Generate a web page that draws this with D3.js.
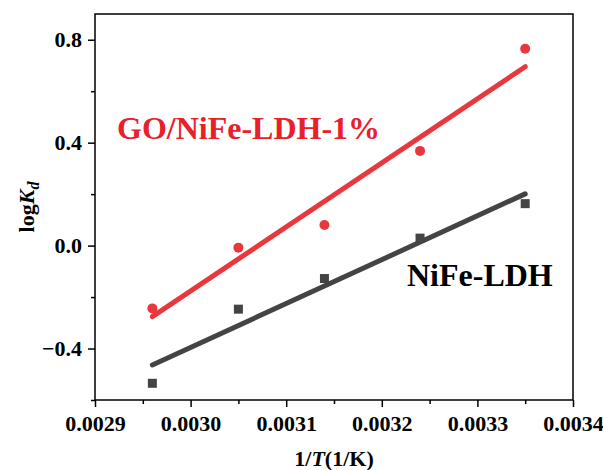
<!DOCTYPE html>
<html>
<head>
<meta charset="utf-8">
<script src="https://cdn.jsdelivr.net/npm/d3@7"></script>
<style>
  body { margin: 0; background: #fff; }
  text { font-family: "Liberation Serif", "Times New Roman", serif; font-weight: bold; }
</style>
</head>
<body>
<svg id="chart" width="603" height="470"></svg>
<script>
// 1/T values (1/K)
var inv_t = [0.00296, 0.00305, 0.00314, 0.00324, 0.00335]
// logKd for each sample
var go_nife = [-0.244, -0.008, 0.080, 0.368, 0.765]
var nife = [-0.535, -0.247, -0.128, 0.029, 0.163]
// linear fit end points
var fit_x = [0.00296, 0.00335]
var go_nife_fit = [-0.276, 0.695]
var nife_fit = [-0.464, 0.201]

var x_ticks = [0.0029, 0.0030, 0.0031, 0.0032, 0.0033, 0.0034]
var y_ticks = [-0.4, 0.0, 0.4, 0.8]

var red = "#e8383d"
var grey = "#444444"

var margin = {left: 95, right: 30, top: 14, bottom: 70}
var width = 603 - margin.left - margin.right
var height = 470 - margin.top - margin.bottom

var svg = d3.select("#chart")
var g = svg.append("g").attr("transform", "translate(" + margin.left + "," + margin.top + ")")

var x = d3.scaleLinear().domain([0.0029, 0.0034]).range([0, width])
var y = d3.scaleLinear().domain([-0.6, 0.9]).range([height, 0])

// minor ticks
g.append("g")
  .attr("transform", "translate(0," + height + ")")
  .call(d3.axisBottom(x).tickValues(d3.range(0, 10).map(function(i){ return 0.00295 + i * 0.0001 }).filter(function(v){ return v < 0.0034 }))
    .tickSize(4).tickFormat(""))
  .call(function(a){ a.select(".domain").remove() })
  .selectAll("line").attr("stroke-width", 1.5)

g.append("g")
  .call(d3.axisLeft(y).tickValues([-0.6, -0.2, 0.2, 0.6]).tickSize(4).tickFormat(""))
  .call(function(a){ a.select(".domain").remove() })
  .selectAll("line").attr("stroke-width", 1.5)

// major ticks
var xa = g.append("g")
  .attr("transform", "translate(0," + height + ")")
  .call(d3.axisBottom(x).tickValues(x_ticks).tickSize(7).tickPadding(8).tickFormat(d3.format(".4f")))
xa.select(".domain").remove()
xa.selectAll("line").attr("stroke-width", 1.5)
xa.selectAll("text").style("font-size", "22px").attr("fill", "#000")

var ya = g.append("g")
  .call(d3.axisLeft(y).tickValues(y_ticks).tickSize(7).tickPadding(6).tickFormat(d3.format(".1f")))
ya.select(".domain").remove()
ya.selectAll("line").attr("stroke-width", 1.5)
ya.selectAll("text").style("font-size", "22px").attr("fill", "#000")

// frame
g.append("rect")
  .attr("width", width).attr("height", height)
  .attr("fill", "none").attr("stroke", "#000").attr("stroke-width", 1.5)

// fit lines
var line = d3.line().x(function(d){ return x(d[0]) }).y(function(d){ return y(d[1]) })

g.append("path")
  .attr("d", line(d3.zip(fit_x, go_nife_fit)))
  .attr("stroke", red).attr("stroke-width", 5).attr("fill", "none").attr("stroke-linecap", "round")

g.append("path")
  .attr("d", line(d3.zip(fit_x, nife_fit)))
  .attr("stroke", grey).attr("stroke-width", 5).attr("fill", "none").attr("stroke-linecap", "round")

// data points
g.selectAll(".pt-red").data(d3.zip(inv_t, go_nife)).enter().append("circle")
  .attr("class", "pt-red")
  .attr("cx", function(d){ return x(d[0]) })
  .attr("cy", function(d){ return y(d[1]) })
  .attr("r", 5)
  .attr("fill", red)

g.selectAll(".pt-grey").data(d3.zip(inv_t, nife)).enter().append("rect")
  .attr("class", "pt-grey")
  .attr("x", function(d){ return x(d[0]) - 4.5 })
  .attr("y", function(d){ return y(d[1]) - 4.5 })
  .attr("width", 9).attr("height", 9)
  .attr("fill", grey)

// labels
g.append("text")
  .attr("x", 117 - margin.left).attr("y", 139 - margin.top)
  .attr("font-size", 32).attr("fill", "#e8202a")
  .text("GO/NiFe-LDH-1%")

g.append("text")
  .attr("x", 407 - margin.left).attr("y", 286 - margin.top)
  .attr("font-size", 32).attr("fill", "#000")
  .text("NiFe-LDH")

// axis titles
var xt = svg.append("text")
  .attr("x", margin.left + width / 2).attr("y", 466)
  .attr("text-anchor", "middle").attr("font-size", 22)
xt.append("tspan").text("1/")
xt.append("tspan").attr("font-style", "italic").text("T")
xt.append("tspan").text("(1/K)")

var yt = svg.append("text")
  .attr("transform", "translate(34," + (margin.top + y(0.15)) + ") rotate(-90)")
  .attr("text-anchor", "middle").attr("font-size", 22)
yt.append("tspan").text("log")
yt.append("tspan").attr("font-style", "italic").text("K")
yt.append("tspan").attr("font-style", "italic").attr("font-size", 16).attr("dy", 5).text("d")
</script>
</body>
</html>
